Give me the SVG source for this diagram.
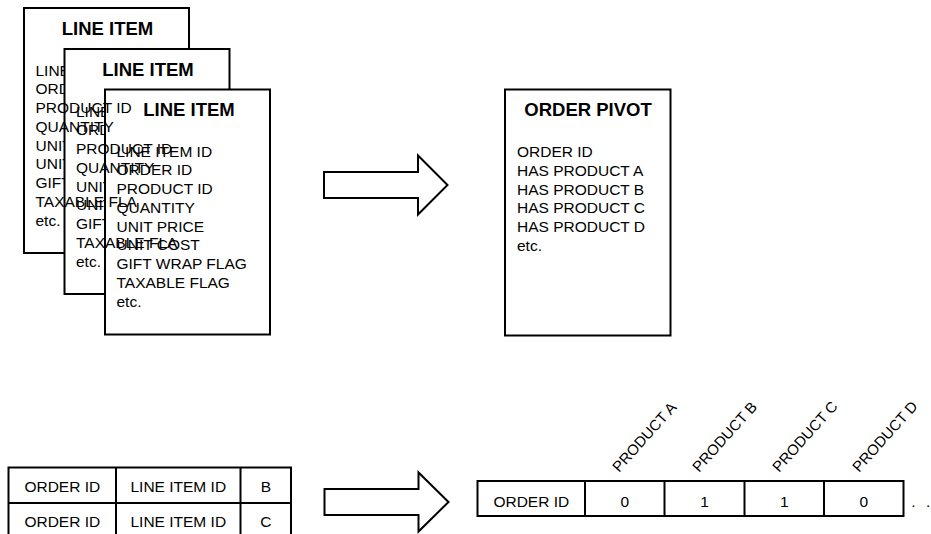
<svg xmlns="http://www.w3.org/2000/svg" width="931" height="534" viewBox="0 0 931 534">
<style>
.box{fill:#fff;stroke:#000;stroke-width:2}
.ln{fill:none;stroke:#000;stroke-width:2}
.arr{fill:#fff;stroke:#000;stroke-width:2;stroke-linejoin:miter}
text{font-family:"Liberation Sans",Arial,Helvetica,sans-serif;fill:#000}
.t{font-size:18.5px;font-weight:bold;text-anchor:middle}
.b{font-size:15.5px}
.c{font-size:15.5px;text-anchor:middle}
.r{font-size:15px}
</style>
<rect width="931" height="534" fill="#fff"/>
<g id="line-item-1">
<rect class="box" x="24" y="8" width="165" height="245"/>
<text class="t" x="107.5" y="35">LINE ITEM</text>
<text class="b" x="35.5" y="75.5">LINE</text>
<text class="b" x="35.5" y="94.25">ORD</text>
<text class="b" x="35.5" y="150.5">UNIT</text>
<text class="b" x="35.5" y="169.25">UNIT</text>
<text class="b" x="35.5" y="188">GIFT</text>
<text class="b" x="35.5" y="225.5">etc.</text>
</g>
<g id="line-item-2">
<rect class="box" x="64.5" y="49" width="165" height="245"/>
<text class="t" x="148" y="76">LINE ITEM</text>
<text class="b" x="76" y="116.5">LINE</text>
<text class="b" x="76" y="135.25">ORD</text>
<text class="b" x="76" y="191.5">UNIT</text>
<text class="b" x="76" y="210.25">UNIT</text>
<text class="b" x="76" y="229">GIFT</text>
<text class="b" x="76" y="266.5">etc.</text>
</g>
<g id="line-item-3">
<rect class="box" x="105" y="89.5" width="165" height="245"/>
<text class="t" x="189" y="115.5">LINE ITEM</text>
<text class="b" x="116.5" y="156.5">LINE ITEM ID</text>
<text class="b" x="116.5" y="175.25">ORDER ID</text>
<text class="b" x="116.5" y="194">PRODUCT ID</text>
<text class="b" x="116.5" y="212.75">QUANTITY</text>
<text class="b" x="116.5" y="231.5">UNIT PRICE</text>
<text class="b" x="116.5" y="250.25">UNIT COST</text>
<text class="b" x="116.5" y="269">GIFT WRAP FLAG</text>
<text class="b" x="116.5" y="287.75">TAXABLE FLAG</text>
<text class="b" x="116.5" y="306.5">etc.</text>
</g>
<g id="line-item-overflow-text">
<text class="b" x="35.5" y="113">PRODUCT ID</text>
<text class="b" x="35.5" y="131.75">QUANTITY</text>
<text class="b" x="35.5" y="206.75">TAXABLE FLA</text>
<text class="b" x="76" y="154">PRODUCT ID</text>
<text class="b" x="76" y="172.75">QUANTITY</text>
<text class="b" x="76" y="247.75">TAXABLE FLA</text>
</g>
<g id="order-pivot">
<rect class="box" x="505" y="89.5" width="165.5" height="246"/>
<text class="t" x="588" y="115.5">ORDER PIVOT</text>
<text class="b" x="517" y="157">ORDER ID</text>
<text class="b" x="517" y="175.75">HAS PRODUCT A</text>
<text class="b" x="517" y="194.5">HAS PRODUCT B</text>
<text class="b" x="517" y="213.25">HAS PRODUCT C</text>
<text class="b" x="517" y="232">HAS PRODUCT D</text>
<text class="b" x="517" y="250.75">etc.</text>
</g>
<g id="line-item-table">
<rect class="box" x="8.5" y="467.5" width="282.5" height="71"/>
<path class="ln" d="M8.5 503H291M116 467.5V540M240.5 467.5V540"/>
<text class="c" x="62.3" y="491.5">ORDER ID</text>
<text class="c" x="178.3" y="491.5">LINE ITEM ID</text>
<text class="c" x="265.8" y="491.5">B</text>
<text class="c" x="62.3" y="526.5">ORDER ID</text>
<text class="c" x="178.3" y="526.5">LINE ITEM ID</text>
<text class="c" x="265.8" y="526.5">C</text>
</g>
<g id="pivot-table">
<rect class="box" x="477.5" y="481" width="426" height="35"/>
<path class="ln" d="M585 481V516M664.5 481V516M744.5 481V516M824 481V516"/>
<text class="c" x="531.3" y="506.5">ORDER ID</text>
<text class="c" x="624.8" y="506.5">0</text>
<text class="c" x="704.5" y="506.5">1</text>
<text class="c" x="784.3" y="506.5">1</text>
<text class="c" x="863.8" y="506.5">0</text>
<text class="b" x="911.3" y="506.5" word-spacing="6">. .</text>
<text class="r" transform="translate(619,473) rotate(-48)">PRODUCT A</text>
<text class="r" transform="translate(699,473) rotate(-48)">PRODUCT B</text>
<text class="r" transform="translate(779,473) rotate(-48)">PRODUCT C</text>
<text class="r" transform="translate(859,473) rotate(-48)">PRODUCT D</text>
</g>
<g id="connectors">
<polygon class="arr" points="324,172 418,172 418,155.5 447.5,185 418,214.5 418,198 324,198"/>
<polygon class="arr" points="324.5,489 418.5,489 418.5,472.5 448.5,502 418.5,531.5 418.5,515 324.5,515"/>
</g>
</svg>
